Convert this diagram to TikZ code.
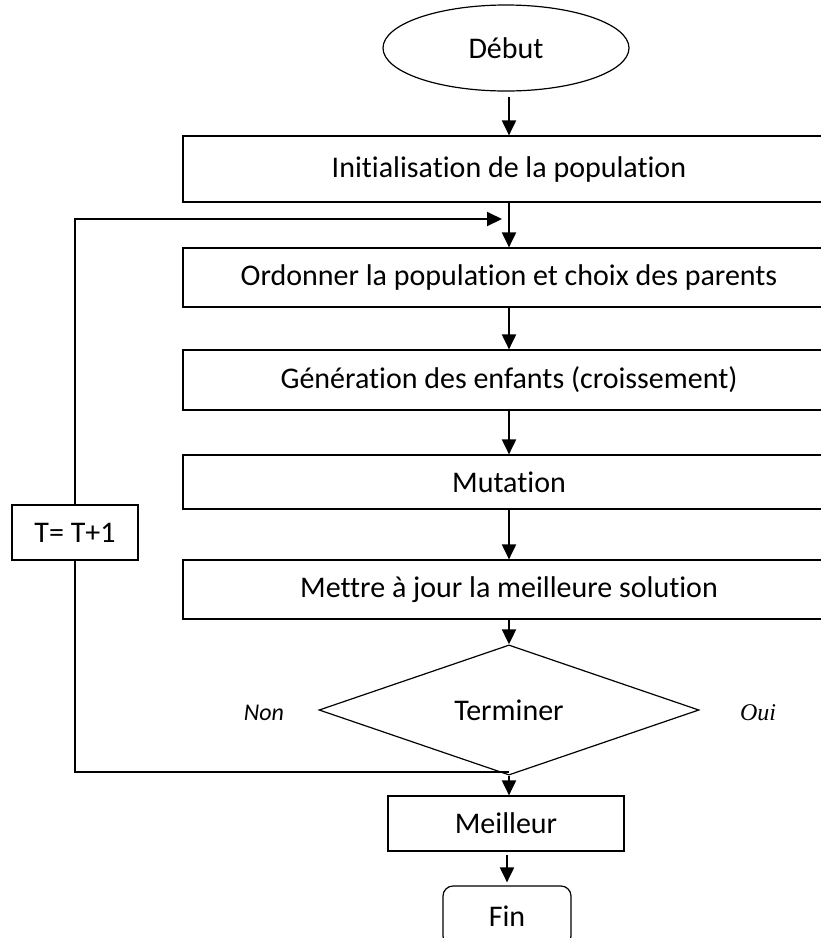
\documentclass[tikz,border=0pt]{standalone}
\usepackage{fontspec}
\setmainfont{Carlito}[Ligatures=NoCommon]
\newfontfamily\timesfont{Liberation Serif}
\usetikzlibrary{arrows.meta,shapes.geometric}
\begin{document}
\begin{tikzpicture}[x=1pt,y=-1pt,
  txt/.style={font=\fontsize{30}{36}\selectfont},
  box/.style={draw, line width=1.2pt, inner sep=0pt, txt},
  wide/.style={box, minimum width=652pt},
  arr/.style={line width=2pt, -{Triangle[length=15pt,width=14pt]}},
  loopline/.style={line width=2pt}]
\useasboundingbox (0,0) rectangle (821,938);
\clip (0,0) rectangle (821,938);
\node[ellipse, box, minimum width=246pt, minimum height=86pt] (debut) at (506,48) {Début};
\node[wide, minimum height=66pt] (init) at (509,169) {Initialisation de la population};
\node[wide, minimum height=59pt] (ord) at (509,277.5) {Ordonner la population et choix des parents};
\node[wide, minimum height=60pt] (gen) at (509,380) {Génération des enfants (croissement)};
\node[wide, minimum height=54pt] (mut) at (509,482) {Mutation};
\node[wide, minimum height=59pt] (maj) at (509,589.5) {Mettre à jour la meilleure solution};
\node[diamond, box, minimum width=380pt, minimum height=104pt] (term) at (509,710) {Terminer};
\node[box, minimum width=236pt, minimum height=55pt] (meil) at (506,823.5) {Meilleur};
\node[box, rounded corners=10pt, minimum width=128pt, minimum height=60pt] (fin) at (507,916) {Fin};
\node[box, minimum width=126pt, minimum height=55pt] (tbox) at (75,532.5) {T= T+1};
\node[font=\fontsize{24}{28}\selectfont\itshape] (non) at (264,713) {Non};
\node[font=\fontsize{24}{28}\timesfont\itshape] (oui) at (758,713) {Oui};
\coordinate (jtop) at (502,219);
\coordinate (jbot) at (509,772);
\draw[arr, shorten <=5pt] (debut.south -| init.north) -- (init.north);
\draw[arr] (init.south) -- (ord.north);
\draw[arr] (ord.south) -- (gen.north);
\draw[arr] (gen.south) -- (mut.north);
\draw[arr] (mut.south) -- (maj.north);
\draw[arr] (maj.south) -- (term.north);
\draw[arr] (term.south) -- (term.south |- meil.north);
\draw[arr, shorten <=3pt, shorten >=3pt] (meil.south -| fin.north) -- (fin.north);
\draw[arr] (tbox.north) |- (jtop);
\draw[loopline] (tbox.south) |- (jbot);
\end{tikzpicture}
\end{document}
